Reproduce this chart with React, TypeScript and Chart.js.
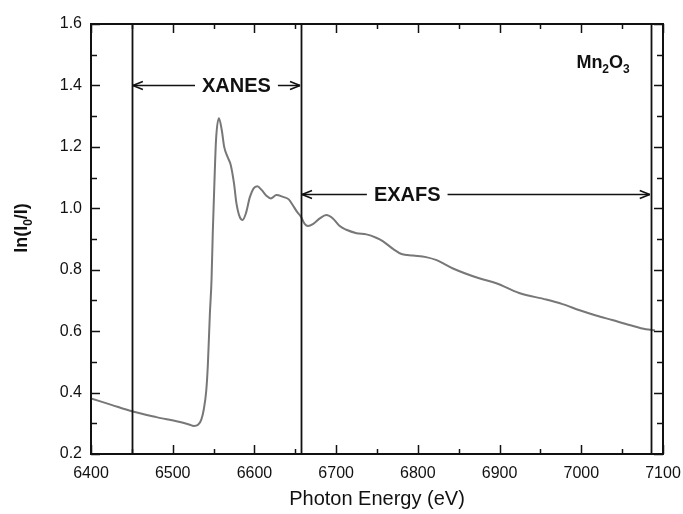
import { useEffect, useRef } from 'react';
import { Chart, registerables } from 'chart.js';

Chart.register(...registerables);

// Mn2O3 Mn K-edge absorption spectrum
const energy = [
  6400, 6425, 6450, 6480, 6509, 6520, 6526, 6531, 6535, 6538, 6541, 6543, 6545.5, 6547.5,
  6549, 6551, 6553, 6556.5, 6560, 6563, 6567, 6571, 6575, 6578, 6582, 6585.5, 6589.5,
  6594.5, 6599, 6603.5, 6609, 6615, 6620, 6627, 6635, 6642, 6647, 6652, 6657, 6661.5,
  6665.5, 6672, 6680, 6688, 6696, 6704, 6712.5, 6725, 6737, 6749, 6757, 6770, 6780, 6794,
  6810, 6823, 6843, 6875, 6896, 6924, 6957, 6977, 6998, 7018, 7038, 7059, 7079, 7090,
];
const absorbance = [
  0.381, 0.36, 0.339, 0.32, 0.304, 0.296, 0.291, 0.295, 0.312, 0.345, 0.405, 0.49, 0.658, 0.767,
  0.918, 1.081, 1.222, 1.293, 1.255, 1.2, 1.168, 1.141, 1.081, 1.016, 0.972, 0.962, 0.983,
  1.037, 1.065, 1.072, 1.059, 1.04, 1.032, 1.043, 1.037, 1.029, 1.01, 0.989, 0.972, 0.949,
  0.942, 0.949, 0.967, 0.978, 0.967, 0.943, 0.93, 0.919, 0.915, 0.904, 0.893, 0.867, 0.851, 0.846,
  0.841, 0.831, 0.804, 0.772, 0.756, 0.724, 0.703, 0.688, 0.668, 0.651, 0.636, 0.62, 0.606, 0.603,
];

// Axis ranges
const xRange = [6400, 7100];
const yRange = [0.2, 1.6];

// Region boundaries: edge start, XANES/EXAFS split, end of EXAFS
const regionBounds = [6450, 6657, 7085];
// Region labels: [text, centre energy, arrow level, from, to]
const regionLabels: [string, number, number, number, number][] = [
  ['XANES', 6578, 1.4, 6450, 6657],
  ['EXAFS', 6787, 1.045, 6657, 7085],
];
// Sample label anchor (energy, absorbance)
const sampleAnchor = [6994, 1.457];

const FONT = "'Liberation Sans', Arial, Helvetica, sans-serif";

function drawSubscripted(
  ctx: CanvasRenderingContext2D,
  parts: [string, boolean][],
  x: number,
  y: number,
  size: number,
  bold: boolean,
  align: 'left' | 'center'
) {
  const w = bold ? 'bold ' : '';
  const big = `${w}${size}px ${FONT}`;
  const small = `${w}${Math.round(size * 0.68)}px ${FONT}`;
  let total = 0;
  for (const [t, sub] of parts) {
    ctx.font = sub ? small : big;
    total += ctx.measureText(t).width;
  }
  let cx = align === 'center' ? x - total / 2 : x;
  ctx.textAlign = 'left';
  ctx.textBaseline = 'alphabetic';
  for (const [t, sub] of parts) {
    ctx.font = sub ? small : big;
    ctx.fillText(t, cx, sub ? y + size * 0.3 : y);
    cx += ctx.measureText(t).width;
  }
}

const decorations = {
  id: 'decorations',
  afterDatasetsDraw(chart: any) {
    const { ctx, chartArea: a } = chart;
    const x = chart.scales.x;
    const y = chart.scales.y;
    const line = (x1: number, y1: number, x2: number, y2: number) => {
      ctx.beginPath();
      ctx.moveTo(x1, y1);
      ctx.lineTo(x2, y2);
      ctx.stroke();
    };
    ctx.save();
    ctx.strokeStyle = '#111';
    ctx.fillStyle = '#111';

    // region boundary lines
    ctx.lineWidth = 1.8;
    for (const e of regionBounds) {
      const px = Math.round(x.getPixelForValue(e)) + 0.5;
      line(px, a.top, px, a.bottom);
    }

    // frame
    ctx.lineWidth = 2;
    ctx.strokeRect(a.left, a.top, a.right - a.left, a.bottom - a.top);

    // inward ticks on all four sides
    ctx.lineWidth = 1.5;
    for (let i = 0; i <= 14; i++) {
      const e = xRange[0] + i * 50;
      const len = i % 2 === 0 ? 9 : 5;
      const px = Math.round(x.getPixelForValue(e)) + 0.5;
      line(px, a.bottom, px, a.bottom - len);
      line(px, a.top, px, a.top + len);
    }
    for (let i = 0; i <= 14; i++) {
      const v = yRange[0] + i * 0.1;
      const len = i % 2 === 0 ? 9 : 6;
      const py = Math.round(y.getPixelForValue(v)) + 0.5;
      line(a.left, py, a.left + len, py);
      line(a.right, py, a.right - len, py);
    }

    // double-headed region arrows with labels
    ctx.lineWidth = 1.5;
    for (const [text, centre, level, from, to] of regionLabels) {
      const py = Math.round(y.getPixelForValue(level)) + 0.5;
      const x1 = x.getPixelForValue(from) + 1;
      const x2 = x.getPixelForValue(to) - 1;
      const cx = x.getPixelForValue(centre);
      ctx.font = `bold 20px ${FONT}`;
      const tw = ctx.measureText(text).width;
      line(x1, py, cx - tw / 2 - 7, py);
      line(cx + tw / 2 + 7, py, x2, py);
      line(x1, py, x1 + 10, py - 4);
      line(x1, py, x1 + 10, py + 4);
      line(x2, py, x2 - 10, py - 4);
      line(x2, py, x2 - 10, py + 4);
      ctx.textAlign = 'center';
      ctx.textBaseline = 'middle';
      ctx.fillText(text, cx, py + 1);
    }

    // sample label
    drawSubscripted(
      ctx,
      [['Mn', false], ['2', true], ['O', false], ['3', true]],
      x.getPixelForValue(sampleAnchor[0]),
      y.getPixelForValue(sampleAnchor[1]),
      18,
      true,
      'left'
    );

    // axis titles
    ctx.font = `20px ${FONT}`;
    ctx.textAlign = 'center';
    ctx.textBaseline = 'alphabetic';
    ctx.fillText('Photon Energy (eV)', (a.left + a.right) / 2, 505);

    ctx.translate(27, 228);
    ctx.rotate(-Math.PI / 2);
    drawSubscripted(ctx, [['ln(I', false], ['0', true], ['/I)', false]], 0, 0, 18, true, 'center');
    ctx.restore();
  },
};

export default function App() {
  const ref = useRef<HTMLCanvasElement | null>(null);

  useEffect(() => {
    if (!ref.current) return;
    const chart = new Chart(ref.current, {
      type: 'line',
      data: {
        datasets: [
          {
            data: energy.map((e, i) => ({ x: e, y: absorbance[i] })),
            borderColor: '#777777',
            borderWidth: 2,
            pointRadius: 0,
            cubicInterpolationMode: 'monotone',
            fill: false,
          },
        ],
      },
      options: {
        responsive: false,
        animation: false,
        layout: { padding: { top: 24, right: 20, left: 0, bottom: 0 } },
        plugins: { legend: { display: false }, tooltip: { enabled: false } },
        scales: {
          x: {
            type: 'linear',
            min: xRange[0],
            max: xRange[1],
            grid: { display: false, drawTicks: false },
            border: { display: false },
            ticks: {
              stepSize: 100,
              padding: 10,
              color: '#111',
              font: { family: FONT, size: 16 },
              maxRotation: 0,
              callback: (v: any) => String(v),
            },
            afterFit: (s: any) => {
              s.height = 60;
              s.paddingLeft = 0;
              s.paddingRight = 0;
            },
          },
          y: {
            type: 'linear',
            min: yRange[0],
            max: yRange[1],
            grid: { display: false, drawTicks: false },
            border: { display: false },
            ticks: {
              stepSize: 0.2,
              padding: 9,
              color: '#111',
              font: { family: FONT, size: 16 },
              callback: (v: any) => Number(v).toFixed(1),
            },
            afterFit: (s: any) => {
              s.width = 91;
              s.paddingTop = 0;
              s.paddingBottom = 0;
            },
          },
        },
      },
      plugins: [decorations],
    });
    return () => chart.destroy();
  }, []);

  return (
    <div style={{ position: 'fixed', left: 0, top: 0, width: 683, height: 514, background: '#fff' }}>
      <canvas ref={ref} width={683} height={514} style={{ display: 'block' }} />
    </div>
  );
}
